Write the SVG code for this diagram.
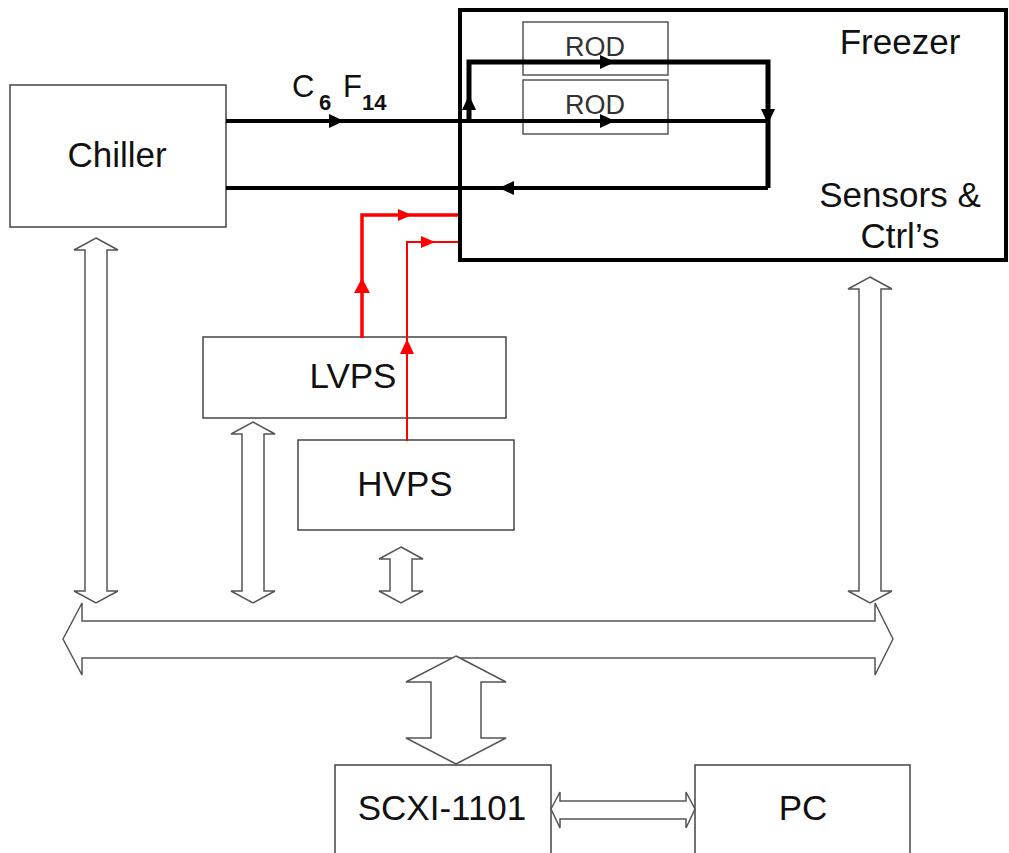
<svg xmlns="http://www.w3.org/2000/svg" width="1009" height="853" viewBox="0 0 1009 853">
<style>
.box{fill:#fff;stroke:#444;stroke-width:1.5}
.rod{fill:none;stroke:#555;stroke-width:1.5}
.lbl{font-family:"Liberation Sans",Arial,sans-serif;font-size:35px;fill:#111;text-anchor:middle}
.rodt{font-family:"Liberation Sans",Arial,sans-serif;font-size:27px;fill:#333;text-anchor:middle}
.pipe{fill:none;stroke:#000;stroke-width:4}
.loop{fill:none;stroke:#000;stroke-width:5}
.ah{fill:#000}
.red{fill:none;stroke:#f00}
.rah{fill:#f00}
.dbl{fill:#fff;stroke:#555;stroke-width:1.5;stroke-linejoin:miter}
</style>
<rect width="1009" height="853" fill="#fff"/>
<g id="freezer">
<rect x="460" y="10" width="546" height="250" fill="#fff" stroke="#000" stroke-width="4"/>
<text class="lbl" x="900" y="54">Freezer</text>
<text class="lbl" x="900" y="207">Sensors &amp;</text>
<text class="lbl" x="900" y="248">Ctrl’s</text>
</g>
<g id="rod1">
<rect class="rod" x="523" y="22" width="145" height="53"/>
<text class="rodt" x="595" y="56">ROD</text>
</g>
<g id="rod2">
<rect class="rod" x="523" y="80" width="145" height="54"/>
<text class="rodt" x="595" y="114">ROD</text>
</g>
<g id="chiller">
<rect class="box" x="10" y="85" width="216" height="142"/>
<text class="lbl" x="117" y="167">Chiller</text>
</g>
<g id="lvps">
<rect class="box" x="203" y="337" width="303" height="81"/>
<text class="lbl" x="353" y="388">LVPS</text>
</g>
<g id="hvps">
<rect class="box" x="298" y="440" width="216" height="90"/>
<text class="lbl" x="405" y="496">HVPS</text>
</g>
<g id="scxi">
<rect class="box" x="335" y="765" width="216" height="100"/>
<text class="lbl" x="442" y="820">SCXI-1101</text>
</g>
<g id="pc">
<rect class="box" x="695" y="765" width="215" height="100"/>
<text class="lbl" x="803" y="820">PC</text>
</g>
<g id="connectors">
<path class="pipe" d="M226,121 H768"/>
<path class="pipe" d="M226,188 H768"/>
<path class="loop" d="M469,121 V62 H768 V188"/>
<polygon class="ah" points="329,114 344,121 329,128"/>
<polygon class="ah" points="514,181 499,188 514,195"/>
<polygon class="ah" points="600,55 615,62 600,69"/>
<polygon class="ah" points="600,114 615,121 600,128"/>
<polygon class="ah" points="462,110 469,95 476,110"/>
<polygon class="ah" points="761,109 768,124 775,109"/>
<text font-family="Liberation Sans,Arial,sans-serif" fill="#111"><tspan x="292" y="97" font-size="31">C</tspan><tspan x="319" y="110" font-size="22" font-weight="bold">6</tspan><tspan x="343" y="97" font-size="31">F</tspan><tspan x="362" y="110" font-size="22" font-weight="bold">14</tspan></text>
<path class="red" stroke-width="3.5" d="M362,338 V215 H458"/>
<path class="red" stroke-width="2" d="M407,441 V242 H458"/>
<polygon class="rah" points="354,293 362,278 370,293"/>
<polygon class="rah" points="400,354 407,339 414,354"/>
<polygon class="rah" points="398,209 412,215 398,221"/>
<polygon class="rah" points="421,236 435,242 421,248"/>
<polygon class="dbl" points="96,238 118,250 107,250 107,591 118,591 96,603 74,591 85,591 85,250 74,250"/>
<polygon class="dbl" points="253,422 275,434 264,434 264,591 275,591 253,603 231,591 242,591 242,434 231,434"/>
<polygon class="dbl" points="401,547 423,559 412,559 412,591 423,591 401,603 379,591 390,591 390,559 379,559"/>
<polygon class="dbl" points="870,277 892,289 881,289 881,591 892,591 870,603 848,591 859,591 859,289 848,289"/>
<polygon class="dbl" points="63,639 82,603 82,621 875,621 875,603 893,639 875,675 875,658 82,658 82,675"/>
<polygon class="dbl" points="456,656 506,682 481,682 481,738 506,738 456,764 406,738 431,738 431,682 406,682"/>
<polygon class="dbl" points="551,809 560,792 560,801 686,801 686,792 695,809 686,828 686,819 560,819 560,828"/>
</g>
</svg>
